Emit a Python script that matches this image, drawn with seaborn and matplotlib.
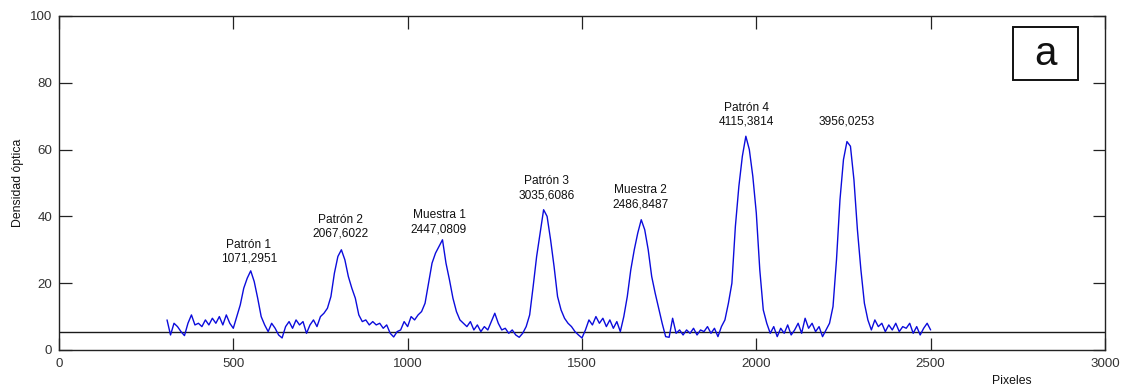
import numpy as np
import pandas as pd
import matplotlib
matplotlib.use("Agg")
import matplotlib.pyplot as plt
from matplotlib.patches import Rectangle
import seaborn as sns

# ---------------- data ----------------
pixel_start = 310
pixel_step = 10
densidad = [
    9, 4.5, 8, 7, 5.5, 4.3, 8, 10.5, 7.5, 8,            # 310-400
    7, 9, 7.5, 9.5, 8, 10, 7.5, 10.5, 8, 6.5,           # 410-500
    10, 13.5, 18.5, 21.5, 23.7, 20.5, 15.5, 10, 7.5, 5.5,  # 510-600
    8, 6.5, 4.5, 3.6, 7, 8.5, 6.5, 9, 7.5, 8.5,         # 610-700
    5, 7.5, 9, 7, 10, 11, 12.5, 16, 23, 28,             # 710-800
    30, 27, 22, 18.5, 15.5, 10.5, 8.5, 9, 7.5, 8.5,     # 810-900
    7.5, 8, 6.5, 7.5, 5, 3.9, 5.5, 6, 8.5, 7,           # 910-1000
    10, 9, 10.5, 11.5, 14, 20, 26, 29, 31, 33,          # 1010-1100
    26, 21, 15.5, 11.5, 9, 8, 7, 8.5, 6, 7.5,           # 1110-1200
    5.5, 7, 6, 8.5, 11, 8, 6, 6.5, 5, 6,                # 1210-1300
    4.5, 3.8, 5, 7, 10.5, 19, 28, 35, 42, 40,           # 1310-1400
    33, 25, 16, 12, 9.5, 8, 7, 5.5, 4.5, 3.6,           # 1410-1500
    6, 9, 7.5, 10, 8, 9.5, 7, 9, 6.5, 8.5,              # 1510-1600
    5.5, 10, 16, 24, 30, 35, 39, 36, 30, 22,            # 1610-1700
    17, 12.5, 8, 4, 3.8, 9.5, 5, 6, 4.5, 6,             # 1710-1800
    5, 6.5, 4.5, 6, 5.5, 7, 5, 6.5, 4, 7,               # 1810-1900
    9, 14, 20, 37, 49, 58, 64, 60, 52, 41,              # 1910-2000
    24, 12, 8, 5, 7, 4, 6.5, 5, 7.5, 4.5,               # 2010-2100
    6, 8, 5, 9.5, 6.5, 8, 5.5, 7, 4, 6,                 # 2110-2200
    8, 13, 27, 45, 57, 62.4, 61, 51, 36, 24,            # 2210-2300
    14, 9, 6, 9, 7, 8, 5.5, 7.5, 6, 8,                  # 2310-2400
    5.5, 7, 6.5, 8, 5, 7, 4.5, 6.5, 8, 6,               # 2410-2500
]
linea_base = 5.3

etiquetas = ["Patrón 1", "Patrón 2", "Muestra 1", "Patrón 3", "Muestra 2", "Patrón 4", ""]
valores = ["1071,2951", "2067,6022", "2447,0809", "3035,6086", "2486,8487", "4115,3814", "3956,0253"]
etiqueta_x = [545, 808, 1090, 1399, 1669, 1973, 2260]
etiqueta_y = [25.5, 33.0, 34.3, 44.5, 41.8, 66.5, 66.5]

x_ticks = [0, 500, 1000, 1500, 2000, 2500, 3000]
y_ticks = [0, 20, 40, 60, 80, 100]

# ---------------- plot ----------------
sns.set_theme(style="white")
plt.rcParams["font.family"] = ["Liberation Sans", "DejaVu Sans"]

pixeles = pixel_start + pixel_step * np.arange(len(densidad))
df = pd.DataFrame({"Pixeles": pixeles, "Densidad": densidad})

fig = plt.figure(figsize=(11.25, 3.9), dpi=100)
ax = fig.add_axes([0.0524, 0.1026, 0.9298, 0.8564])

ax.axhline(linea_base, color="#1a1a1a", lw=1.0, zorder=1)
sns.lineplot(data=df, x="Pixeles", y="Densidad", ax=ax, color="#0c0cdc", lw=1.0, zorder=2)

for name, val, tx, ty in zip(etiquetas, valores, etiqueta_x, etiqueta_y):
    txt = f"{name}\n{val}" if name else val
    ax.text(tx, ty, txt, ha="center", va="bottom", fontsize=8.6, color="#111111",
            linespacing=1.25)

# panel letter box
ax.add_patch(Rectangle((2736, 80.8), 186, 15.9, fill=True, fc="white",
                       ec="#111111", lw=1.4, zorder=3))
ax.text(2829, 88.5, "a", ha="center", va="center", fontsize=29, color="#111111", zorder=4)

ax.set_xlim(0, 3000)
ax.set_ylim(0, 100)
ax.set_xticks(x_ticks)
ax.set_yticks(y_ticks)
ax.set_xlabel("")
ax.set_ylabel("Densidad óptica", fontsize=8.8, color="#111111", labelpad=4)
ax.text(2733, -9.2, "Pixeles", ha="center", va="center", fontsize=8.8, color="#111111")

ax.tick_params(direction="in", length=9, width=0.9, color="#222222",
               top=True, right=True, bottom=True, left=True,
               labelsize=9.6, labelcolor="#333333", pad=5)
ax.tick_params(axis="x", pad=6)
for s in ax.spines.values():
    s.set_visible(True)
    s.set_color("#222222")
    s.set_linewidth(1.0)
ax.grid(False)

fig.savefig("out.png", dpi=100, facecolor="white")
